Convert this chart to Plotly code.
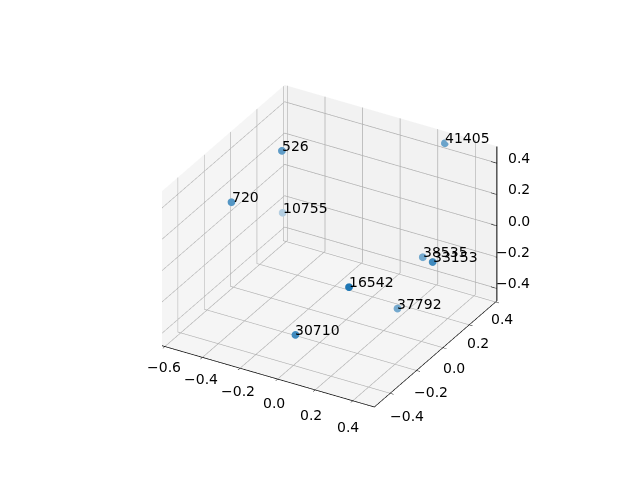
import plotly.graph_objects as go

labels = ["41405", "526", "720", "10755", "38535", "33153", "16542", "37792", "30710"]
xs = [0.241, -0.402, -0.521, -0.600, 0.232, 0.451, 0.233, 0.188, -0.036]
ys = [0.405, 0.085, -0.128, 0.373, 0.250, 0.013, -0.311, 0.121, -0.334]
zs = [0.436, 0.398, 0.184, -0.276, -0.182, 0.036, 0.036, -0.431, -0.345]
alphas = [0.65, 0.70, 0.75, 0.30, 0.60, 0.85, 1.0, 0.60, 0.85]

x_ticks = [-0.6, -0.4, -0.2, 0.0, 0.2, 0.4]
yz_ticks = [-0.4, -0.2, 0.0, 0.2, 0.4]
x_range = [-0.615, 0.515]
y_range = [-0.52, 0.41]
z_range = [-0.48, 0.507]
R = 2.53

FONT = "DejaVu Sans"
TICK_FONT = dict(family=FONT, size=14, color="black")
def blend(a, fg=(31, 119, 180), bg=(244, 244, 244)):
    return "rgb(" + ",".join(str(round(f * a + b * (1 - a))) for f, b in zip(fg, bg)) + ")"
colors = [blend(a) for a in alphas]
def tick_text(v):
    return f"{v:.1f}".replace("-", "\u2212")

fig = go.Figure()
fig.add_trace(go.Scatter3d(
    x=xs, y=ys, z=zs, mode="markers",
    marker=dict(size=4.5, color=colors, line=dict(width=0)),
    hoverinfo="skip",
))
# z axis drawn at the right-hand edge, as in the reference
zx = [x_range[1], x_range[1], None]
zy = [y_range[1], y_range[1], None]
zz = [z_range[0], z_range[1], None]
for v in yz_ticks:
    zx += [x_range[1], x_range[1] - 0.03, None]
    zy += [y_range[1], y_range[1], None]
    zz += [v, v, None]
fig.add_trace(go.Scatter3d(x=zx, y=zy, z=zz, mode="lines",
                           line=dict(color="black", width=2), hoverinfo="skip"))

def axis(vals, rng, bg, line=True):
    return dict(
        range=rng, tickvals=vals,
        title=dict(text=""), showbackground=True, backgroundcolor=bg,
        gridcolor="#b0b0b0", gridwidth=1.5, showline=line, linecolor="black", linewidth=1.5,
        ticks="outside" if line else "", ticklen=4, tickcolor="black", tickwidth=1,
        showticklabels=False, zeroline=False, showspikes=False, autorange=False,
    )

annotations = [
    dict(x=a, y=b, z=c, text=t, showarrow=False, xanchor="left", yanchor="bottom",
         xshift=-2, yshift=-5, font=TICK_FONT)
    for a, b, c, t in zip(xs, ys, zs, labels)
]
annotations += [
    dict(x=v, y=y_range[0], z=z_range[0], text=tick_text(v), showarrow=False, xanchor="center",
         yanchor="middle", xshift=-1 - 4 * (v + 0.6), yshift=-20 - 6 * (v + 0.6), font=TICK_FONT)
    for v in x_ticks
]
annotations += [
    dict(x=x_range[1], y=v, z=z_range[0], text=tick_text(v), showarrow=False, xanchor="center",
         yanchor="middle", xshift=17 - 13.75 * (v + 0.4), yshift=-23 + 7.5 * (v + 0.4), font=TICK_FONT)
    for v in yz_ticks
]
annotations += [
    dict(x=x_range[1], y=y_range[1], z=v, text=tick_text(v), showarrow=False, xanchor="right",
         yanchor="middle", xshift=35, yshift=5, font=TICK_FONT)
    for v in yz_ticks
]

fig.update_layout(
    width=640, height=480, margin=dict(l=0, r=0, t=0, b=0),
    paper_bgcolor="white", showlegend=False,
    scene=dict(
        domain=dict(x=[0.005, 1], y=[0.008, 1]),
        xaxis=axis(x_ticks, x_range, "#f5f5f5"),
        yaxis=axis(yz_ticks, y_range, "#f2f2f2"),
        zaxis=axis(yz_ticks, z_range, "#f5f5f5", line=False),
        aspectmode="manual", aspectratio=dict(x=1.03, y=1.03, z=0.75),
        camera=dict(
            eye=dict(x=0.433 * R, y=-0.75 * R, z=0.5 * R),
            center=dict(x=0, y=0, z=0), up=dict(x=0, y=0, z=1),
            projection=dict(type="orthographic"),
        ),
        annotations=annotations,
    ),
)
fig.write_html("out.html")
